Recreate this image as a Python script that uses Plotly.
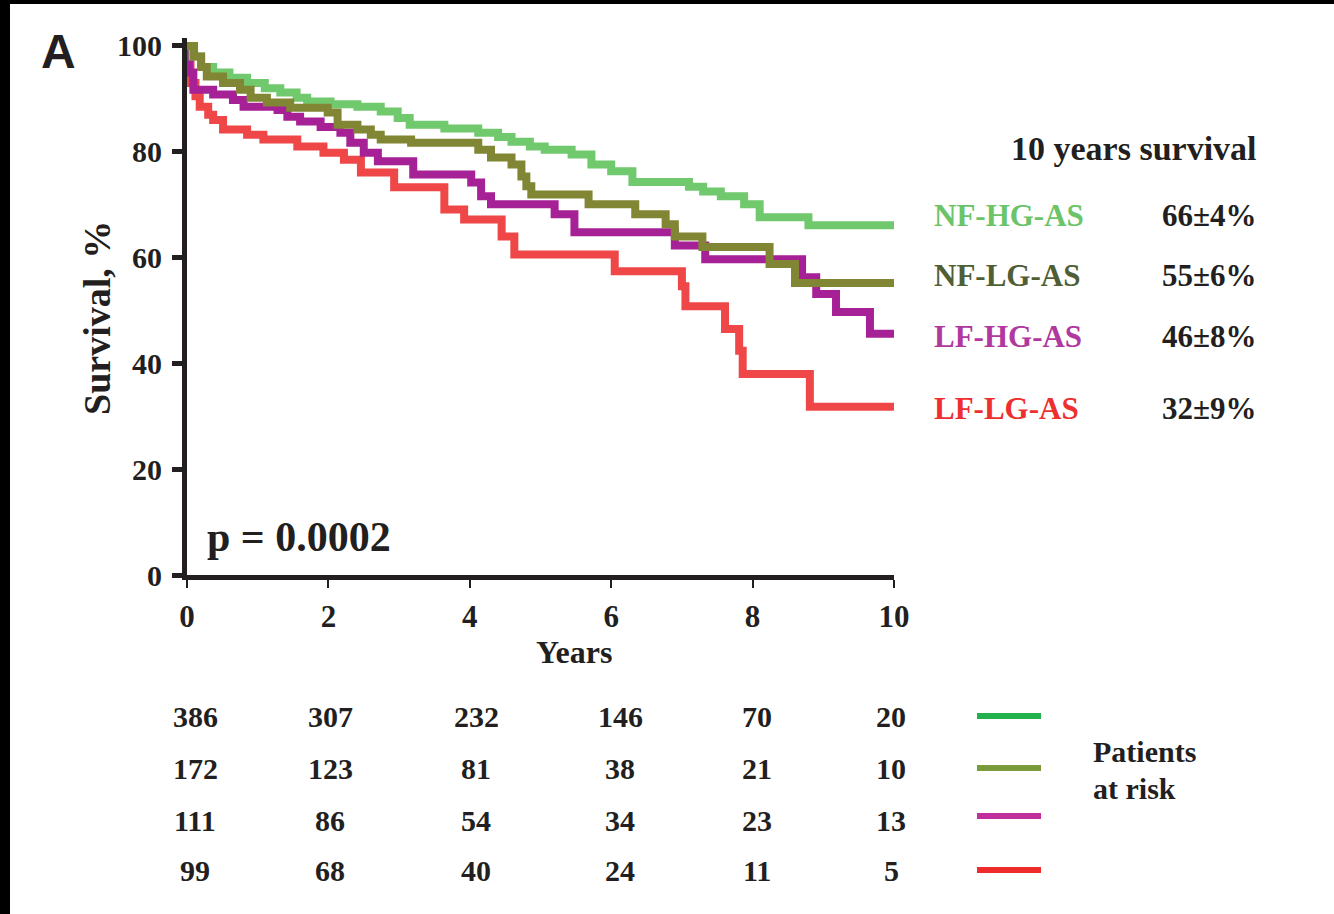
import plotly.graph_objects as go

# ---- Kaplan-Meier step data (years, survival %) ----
nfhg_t = [0, 0.08, 0.2, 0.37, 0.6, 0.85, 1.1, 1.32, 1.55, 1.7, 2.03, 2.41, 2.74, 2.98, 3.15,
          3.64, 4.12, 4.4, 4.59, 4.85, 5.06, 5.44, 5.72, 6.0, 6.3, 7.1, 7.3, 7.55, 7.88, 8.1,
          8.79, 10]
nfhg_s = [100, 98, 96, 95, 94, 93, 92, 91.2, 90.2, 89.5, 89, 88.5, 87.6, 86.4, 85.1,
          84.4, 83.6, 82.8, 81.9, 81, 80.4, 79.5, 77.6, 76.3, 74.3, 73.4, 72.5, 71.6, 70.1, 67.6,
          66.1, 66.1]

nflg_t = [0, 0.1, 0.2, 0.28, 0.51, 0.75, 0.9, 1.13, 1.46, 1.99, 2.13, 2.41, 2.6, 2.74, 3.17,
          4.12, 4.3, 4.59, 4.73, 4.8, 4.87, 5.68, 6.34, 6.77, 6.9, 7.29, 8.24, 8.6, 10]
nflg_s = [100, 98, 96, 94.2, 93, 91.7, 90.2, 89.3, 88.3, 87.4, 85.1, 84.2, 83.2, 82.3, 81.7,
          80.4, 78.9, 77.6, 75.3, 73.5, 71.9, 70.1, 68.2, 66.3, 64, 62, 58.8, 55.2, 55.2]

lfhg_t = [0, 0.03, 0.09, 0.37, 0.65, 0.8, 1.28, 1.42, 1.6, 1.89, 2.17, 2.31, 2.5, 2.7, 3.2,
          4.02, 4.16, 4.3, 5.2, 5.48, 6.9, 7.33, 8.7, 8.9, 9.18, 9.66, 10]
lfhg_s = [100, 95, 91.7, 90.8, 89.8, 88.5, 87.9, 86.6, 85.7, 84.7, 83.6, 81.7, 79.8, 78.2, 75.7,
          74.2, 71.6, 70.1, 68.2, 64.8, 62.3, 59.7, 56.3, 53.1, 49.7, 45.6, 45.6]

lflg_t = [0, 0.05, 0.12, 0.18, 0.3, 0.37, 0.51, 0.85, 1.08, 1.56, 1.93, 2.22, 2.46, 2.93,
          3.64, 3.92, 4.45, 4.63, 6.05, 7.0, 7.05, 7.61, 7.81, 7.86, 8.81, 10]
lflg_s = [100, 93, 90.5, 88.5, 87, 86, 84.2, 83.2, 82.3, 81, 79.8, 78.5, 76.1, 73.3,
          69.1, 67.2, 64, 60.6, 57.4, 54.6, 50.8, 46.5, 42.4, 38, 31.8, 31.8]

groups = ["NF-HG-AS", "NF-LG-AS", "LF-HG-AS", "LF-LG-AS"]
survival_10y = ["66±4%", "55±6%", "46±8%", "32±9%"]

risk_years = [0, 2, 4, 6, 8, 10]
risk_nfhg = [386, 307, 232, 146, 70, 20]
risk_nflg = [172, 123, 81, 38, 21, 10]
risk_lfhg = [111, 86, 54, 34, 23, 13]
risk_lflg = [99, 68, 40, 24, 11, 5]

x_ticks = [0, 2, 4, 6, 8, 10]
y_ticks = [0, 20, 40, 60, 80, 100]

# ---- styling ----
curve_colors = ["#70c96d", "#808634", "#a52195", "#ef4747"]
label_colors = ["#6cc468", "#4f5e35", "#b0389f", "#ee2f2f"]
risk_colors = ["#22b14c", "#7a9a3c", "#c0309c", "#ee2a2a"]
INK = "#231f20"
SERIF = "Liberation Serif"

W, H = 1334, 914
L, R, T, B = 187, 894, 38, 575

# horizontal pixel centres of the at-risk columns
risk_col_px = [195, 330, 476, 620, 757, 891]


def px_x(px):
    return (px - L) / (R - L)


def px_y(py):
    return (B - py) / (B - T)


fig = go.Figure()

curves = [(nfhg_t, nfhg_s), (nflg_t, nflg_s), (lfhg_t, lfhg_s), (lflg_t, lflg_s)]
for idx in [3, 2, 0, 1]:
    t, s = curves[idx]
    fig.add_trace(go.Scatter(x=t, y=s, mode="lines", line=dict(color=curve_colors[idx], width=8, shape="hv"),
                             name=groups[idx], hoverinfo="skip"))

fig.update_layout(
    width=W, height=H,
    margin=dict(l=L, r=W - R, t=T, b=H - B, pad=0),
    paper_bgcolor="white", plot_bgcolor="white",
    showlegend=False,
)
fig.update_xaxes(range=[0, 10], tickvals=x_ticks, ticktext=[str(v) for v in x_ticks],
                 showline=True, linewidth=5, linecolor=INK, ticks="outside", ticklen=8, tickwidth=2,
                 tickcolor=INK, showgrid=False, zeroline=False, ticklabelstandoff=2,
                 tickfont=dict(family=SERIF, size=31, color=INK, weight="bold"))
fig.update_yaxes(range=[0, 101.5], tickvals=y_ticks, ticktext=[str(v) for v in y_ticks],
                 showline=True, linewidth=5, linecolor=INK, ticks="outside", ticklen=10, tickwidth=5,
                 tickcolor=INK, showgrid=False, zeroline=False, ticklabelstandoff=4,
                 tickfont=dict(family=SERIF, size=30, color=INK, weight="bold"))

ann = []


def text(s, px, py, size, color=INK, family=SERIF, weight="bold", xanchor="center", angle=0):
    ann.append(dict(text=s, x=px_x(px), y=px_y(py), xref="paper", yref="paper", showarrow=False,
                    xanchor=xanchor, yanchor="middle", textangle=angle,
                    font=dict(family=family, size=size, color=color, weight=weight)))


text("A", 58, 51, 48, family="Liberation Sans")
text("Years", 574, 652, 32)
text("Survival, %", 97, 318, 38, angle=-90)
text("p = 0.0002", 205, 537, 42, xanchor="left")
text("10 years survival", 1259, 148, 34, xanchor="right")

label_y = [215, 275, 336, 408]
for g, v, c, yy in zip(groups, survival_10y, label_colors, label_y):
    text(g, 932, yy, 31, color=c, xanchor="left")
    text(v, 1259, yy, 31, xanchor="right")

# numbers at risk below the axis
row_y = [716, 768, 820, 871]
for counts, yy in zip([risk_nfhg, risk_nflg, risk_lfhg, risk_lflg], row_y):
    for cx, n in zip(risk_col_px, counts):
        text(str(n), cx, yy, 30)

text("Patients", 1091, 751, 30, xanchor="left")
text("at risk", 1091, 788, 30, xanchor="left")

shapes = []
key_y = [716, 768, 816, 870]
for c, yy in zip(risk_colors, key_y):
    shapes.append(dict(type="line", xref="paper", yref="paper", x0=px_x(977), x1=px_x(1041),
                       y0=px_y(yy), y1=px_y(yy), line=dict(color=c, width=6)))

# dark frame strips at the top and left edges of the page
shapes.append(dict(type="rect", xref="paper", yref="paper", x0=px_x(0), x1=px_x(10), y0=px_y(0), y1=px_y(H),
                   fillcolor="black", line=dict(width=0), layer="above"))
shapes.append(dict(type="rect", xref="paper", yref="paper", x0=px_x(0), x1=px_x(W), y0=px_y(0), y1=px_y(4),
                   fillcolor="black", line=dict(width=0), layer="above"))

fig.update_layout(annotations=ann, shapes=shapes)
fig.write_html("out.html")
